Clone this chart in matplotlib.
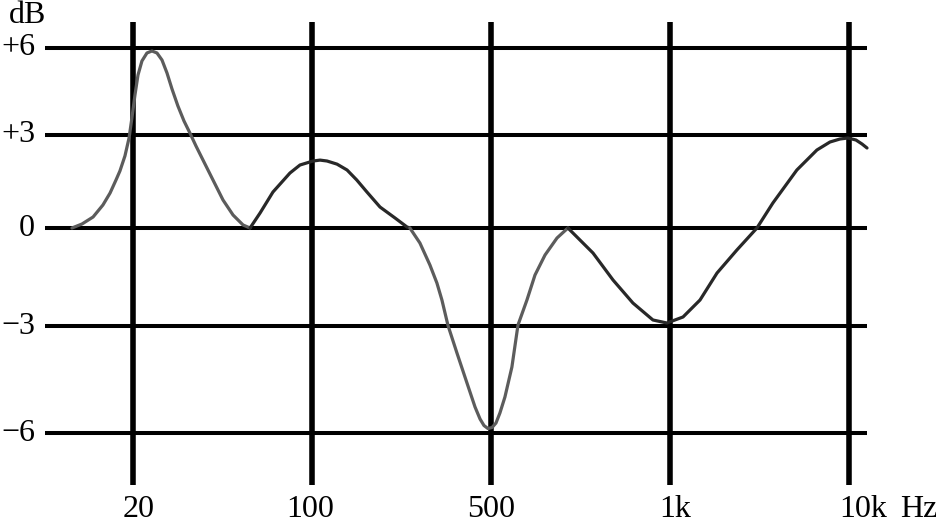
import numpy as np
import matplotlib
matplotlib.use("Agg")
from matplotlib import pyplot as plt
from matplotlib import transforms

plt.rcParams['font.family'] = ['Liberation Serif', 'DejaVu Serif']

# frequency marks, evenly spaced along the x axis (position = index)
freqLabels = ["20", "100", "500", "1k", "10k"]
freqPos = np.arange(len(freqLabels))

# level marks
dbTicks = [6, 3, 0, -3, -6]
dbLabels = ["+6", "+3", "0", "\u22123", "\u22126"]

# the picture does not space the level lines evenly, so map dB -> height
dbKnots = [-12, -6, -3, 0, 3, 6, 12]
heightKnots = [-214, 0, 107, 205, 298, 385, 559]

# response curve in four strokes (x = frequency position)
seg1_x = [-0.341, -0.285, -0.223, -0.168, -0.128, -0.095, -0.073, -0.045, -0.022, -0.006,
          0.011, 0.028, 0.050, 0.078, 0.106, 0.134, 0.162, 0.190, 0.218, 0.251,
          0.285, 0.318, 0.352, 0.391, 0.447, 0.503, 0.559, 0.615, 0.654]
seg1_db = [0.0, 0.129, 0.355, 0.742, 1.129, 1.548, 1.839, 2.323, 2.903, 3.586,
           4.379, 5.069, 5.552, 5.828, 5.897, 5.828, 5.586, 5.138, 4.586, 4.0,
           3.483, 3.069, 2.645, 2.194, 1.548, 0.903, 0.419, 0.097, 0.0]

seg2_x = [0.654, 0.710, 0.782, 0.877, 0.933, 1.006, 1.045, 1.084, 1.140, 1.196,
          1.250, 1.307, 1.380, 1.464, 1.531, 1.547]
seg2_db = [0.0, 0.484, 1.161, 1.774, 2.032, 2.161, 2.19, 2.161, 2.06, 1.871,
           1.55, 1.161, 0.677, 0.323, 0.032, 0.0]

seg3_x = [1.547, 1.603, 1.659, 1.698, 1.726, 1.760, 1.810, 1.866, 1.911, 1.939,
          1.961, 1.983, 2.006, 2.028, 2.050, 2.078, 2.117, 2.151, 2.201, 2.246,
          2.302, 2.369, 2.430]
seg3_db = [0.0, -0.459, -1.133, -1.684, -2.204, -2.985, -3.757, -4.598, -5.271, -5.607,
           -5.790, -5.874, -5.846, -5.720, -5.439, -4.991, -4.150, -2.969, -2.204, -1.439,
           -0.827, -0.306, 0.0]

seg4_x = [2.430, 2.570, 2.682, 2.793, 2.905, 2.983, 3.073, 3.168, 3.263, 3.374,
          3.486, 3.575, 3.709, 3.821, 3.894, 3.950, 3.994, 4.039, 4.073, 4.101]
seg4_db = [0.0, -0.765, -1.592, -2.296, -2.816, -2.908, -2.724, -2.204, -1.378, -0.673,
           0.0, 0.806, 1.871, 2.516, 2.774, 2.871, 2.903, 2.839, 2.71, 2.581]

GRAY = "#5c5c5c"
DARK = "#282828"


def fwd(v):
    return np.interp(v, dbKnots, heightKnots)


def inv(h):
    return np.interp(h, heightKnots, dbKnots)


fig = plt.figure(figsize=(9.37, 5.22), dpi=100)
ax = fig.add_axes([0, 0, 1, 1])
ax.set_yscale('function', functions=(fwd, inv))
ax.set_xlim(-0.743, 4.492)
ax.set_ylim(-8.495, 7.655)
ax.axis('off')

# grid
ax.hlines(dbTicks, -0.492, 4.101, color='black', lw=2.9, zorder=1)
ax.vlines(freqPos, -7.458, 6.897, color='black', lw=4.0, zorder=1)

# curve
for xs, ys, col in [(seg1_x, seg1_db, GRAY), (seg2_x, seg2_db, DARK),
                    (seg3_x, seg3_db, GRAY), (seg4_x, seg4_db, DARK)]:
    ax.plot(xs, ys, color=col, lw=2.3, solid_joinstyle='round',
            solid_capstyle='round', zorder=3)

# level labels
for v, lab in zip(dbTicks, dbLabels):
    ax.text(-0.547, v, lab, ha='right', va='center', fontsize=23)
ax.text(-0.587, 6.86, "dB", ha='center', va='baseline', fontsize=23)

# frequency labels
trans = transforms.blended_transform_factory(ax.transData, ax.transAxes)
labelOffsets = [0.03, -0.01, 0.0, 0.03, 0.08]
for p, lab, off in zip(freqPos, freqLabels, labelOffsets):
    ax.text(p + off, 0.01, lab, ha='center', va='baseline', fontsize=23, transform=trans)
ax.text(4.391, 0.01, "Hz", ha='center', va='baseline', fontsize=23, transform=trans)

fig.savefig("out.png", dpi=100)
